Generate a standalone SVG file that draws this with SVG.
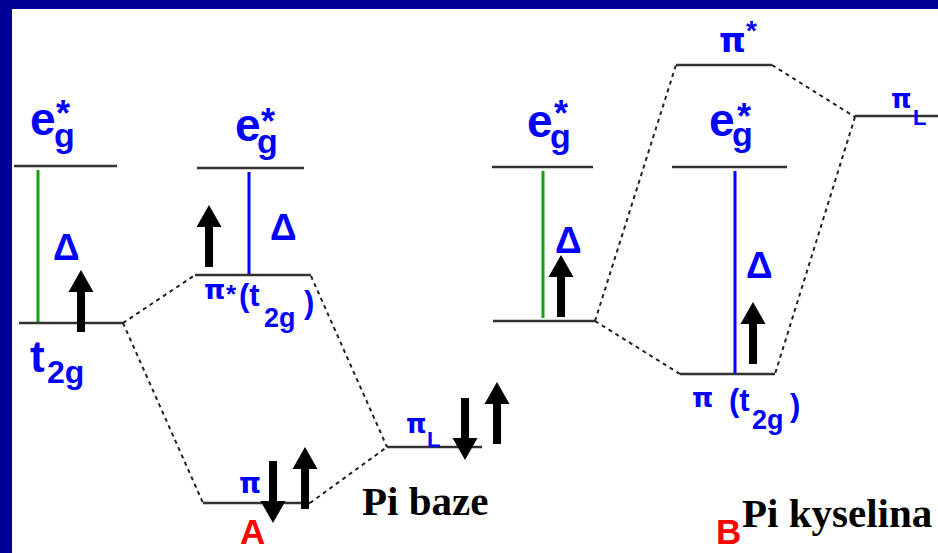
<svg xmlns="http://www.w3.org/2000/svg" xmlns:xlink="http://www.w3.org/1999/xlink" width="938" height="553" viewBox="0 0 938 553">
<defs>
<style>
.lvl{stroke:#333;stroke-width:2.5;fill:none}
.dash{stroke:#222;stroke-width:2;stroke-dasharray:4 4;fill:none}
.lbl{font-family:"Liberation Sans",Arial,sans-serif;font-weight:bold;fill:#0000ff}
.pi{font-family:"DejaVu Sans","Liberation Sans",sans-serif;font-weight:bold;fill:#0000ff}
.delta{font-family:"Liberation Sans",Arial,sans-serif;font-weight:bold;fill:#0000ff;font-size:37px}
.gg{stroke:#10a010;stroke-width:3}
.gb{stroke:#0000ff;stroke-width:3}
.cap{font-family:"Liberation Serif","Times New Roman",serif;font-weight:bold;font-size:41px;fill:#000}
.tag{font-family:"Liberation Sans",Arial,sans-serif;font-weight:bold;font-size:35px;fill:#ff0000}
.e{font-size:46px}.g{font-size:34px}.s{font-size:36px}
</style>
<path id="up" fill="#000" d="M0,0 L12.5,22 L4,22 L4,62 L-4,62 L-4,22 L-12.5,22 Z"/>
<path id="down" fill="#000" d="M0,0 L12.5,-22 L4,-22 L4,-62 L-4,-62 L-4,-22 L-12.5,-22 Z"/>
</defs>
<rect width="938" height="553" fill="#000099"/>
<rect x="12" y="9" width="926" height="544" fill="#fff"/>

<g id="connectors">
<line class="dash" x1="123" y1="323" x2="195" y2="275"/>
<line class="dash" x1="123" y1="323" x2="203" y2="503"/>
<line class="dash" x1="311" y1="276" x2="387" y2="447"/>
<line class="dash" x1="310" y1="503" x2="387" y2="447"/>
<line class="dash" x1="595" y1="321" x2="676" y2="65"/>
<line class="dash" x1="595" y1="321" x2="680" y2="374"/>
<line class="dash" x1="772" y1="65" x2="855" y2="117"/>
<line class="dash" x1="855" y1="117" x2="775" y2="374"/>
</g>

<!-- Panel A -->
<g id="A-eg">
<line class="lvl" x1="14" y1="166" x2="117" y2="166"/>
<text class="lbl e" x="30" y="135">e</text>
<text class="lbl g" x="54" y="147">g</text>
<text class="lbl s" x="56" y="126">*</text>
</g>
<g id="A-gap">
<line class="gg" x1="38" y1="170" x2="38" y2="322"/>
<text class="delta" x="53" y="260">Δ</text>
</g>
<g id="A-t2g">
<line class="lvl" x1="19" y1="323" x2="123" y2="323"/>
<text class="lbl" x="30" y="372" font-size="44">t</text>
<text class="lbl" x="47" y="383" font-size="32">2g</text>
<use xlink:href="#up" x="81" y="270"/>
</g>
<g id="A-eg2">
<line class="lvl" x1="197" y1="168" x2="304" y2="168"/>
<text class="lbl e" x="235" y="141">e</text>
<text class="lbl g" x="257" y="153">g</text>
<text class="lbl s" x="261" y="134">*</text>
</g>
<g id="A-gap2">
<line class="gb" x1="249" y1="172" x2="249" y2="274"/>
<text class="delta" x="270" y="240">Δ</text>
</g>
<g id="A-pistar">
<line class="lvl" x1="195" y1="275" x2="311" y2="275"/>
<use xlink:href="#up" x="209" y="205"/>
<text class="pi" x="204" y="299" font-size="27">π</text>
<text class="lbl" x="226" y="303" font-size="26">*</text>
<text class="lbl" x="239" y="306" font-size="31">(t</text>
<text class="lbl" x="264" y="327" font-size="27">2g</text>
<text class="lbl" x="304" y="313" font-size="31">)</text>
</g>
<g id="A-pi">
<line class="lvl" x1="203" y1="503" x2="310" y2="503"/>
<text class="pi" x="239" y="493" font-size="28">π</text>
<use xlink:href="#down" x="273" y="523"/>
<use xlink:href="#up" x="305" y="447"/>
</g>
<g id="A-piL">
<line class="lvl" x1="387" y1="447" x2="482" y2="447"/>
<text class="pi" x="406" y="433" font-size="26">π</text>
<text class="lbl" x="427" y="447" font-size="22">L</text>
<use xlink:href="#down" x="465" y="460"/>
<use xlink:href="#up" x="497" y="382"/>
</g>
<text class="tag" x="240" y="544">A</text>
<text class="cap" x="362" y="515">Pi baze</text>

<!-- Panel B -->
<g id="B-eg">
<line class="lvl" x1="492" y1="167" x2="593" y2="167"/>
<text class="lbl e" x="527" y="137">e</text>
<text class="lbl g" x="550" y="148">g</text>
<text class="lbl s" x="554" y="126">*</text>
</g>
<g id="B-gap">
<line class="gg" x1="543" y1="171" x2="543" y2="318"/>
<text class="delta" x="555" y="253">Δ</text>
</g>
<g id="B-t2g">
<line class="lvl" x1="493" y1="321" x2="595" y2="321"/>
<use xlink:href="#up" x="561" y="255"/>
</g>
<g id="B-pistar">
<line class="lvl" x1="676" y1="65" x2="772" y2="65"/>
<text class="pi" x="719" y="52" font-size="34">π</text>
<text class="lbl" x="746" y="40" font-size="28">*</text>
</g>
<g id="B-eg2">
<line class="lvl" x1="672" y1="167" x2="787" y2="167"/>
<text class="lbl e" x="709" y="136">e</text>
<text class="lbl g" x="732" y="146">g</text>
<text class="lbl s" x="737" y="129">*</text>
</g>
<g id="B-gap2">
<line class="gb" x1="735" y1="171" x2="735" y2="374"/>
<text class="delta" x="746" y="278">Δ</text>
</g>
<g id="B-pi">
<line class="lvl" x1="680" y1="374" x2="775" y2="374"/>
<use xlink:href="#up" x="753" y="302"/>
<text class="pi" x="692" y="407" font-size="27">π</text>
<text class="lbl" x="729" y="411" font-size="31">(t</text>
<text class="lbl" x="752" y="429" font-size="27">2g</text>
<text class="lbl" x="790" y="416" font-size="31">)</text>
</g>
<g id="B-piL">
<line class="lvl" x1="855" y1="116" x2="938" y2="116"/>
<text class="pi" x="891" y="108" font-size="26">π</text>
<text class="lbl" x="913" y="125" font-size="22">L</text>
</g>
<text class="tag" x="716" y="544">B</text>
<text class="cap" x="742" y="527">Pi kyselina</text>
</svg>
